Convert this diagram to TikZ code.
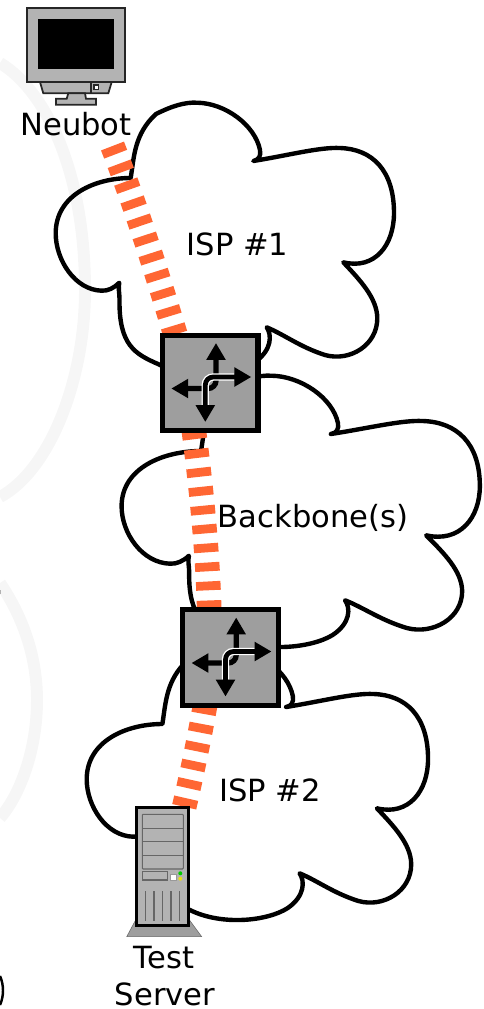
\documentclass[tikz,border=0pt]{standalone}
\usepackage{fontspec}
\setmainfont{DejaVu Sans}
\usepackage{xcolor}
\usetikzlibrary{arrows.meta, backgrounds}
\definecolor{linkorange}{HTML}{FF6633}
\definecolor{boxgrey}{HTML}{9E9E9E}
\definecolor{casegrey}{HTML}{B3B3B3}
\definecolor{bandgrey}{HTML}{F6F6F6}
\tikzset{
    cloudline/.style={line width=2.5pt, line join=round},
    wirelink/.style={linkorange, line width=14pt, dash pattern=on 5pt off 5.8pt},
    routerbox/.style={draw, fill=boxgrey, line width=2.9pt, minimum size=1.91cm, inner sep=0pt, outer sep=0pt},
    serverbox/.style={draw, fill=casegrey, line width=1.7pt, minimum width=1.04cm, minimum height=2.36cm, inner sep=0pt, outer sep=0pt},
    labeltext/.style={font=\fontsize{17.4}{21.5}\selectfont, inner sep=0pt, anchor=base},
    bayline/.style={draw=black!60, line width=0.6pt},
    turnarrow/.style={rounded corners=4.5pt, {Triangle[length=9.6pt,width=10.4pt]}-{Triangle[length=9.6pt,width=10.4pt]}}
}
\newcommand{\cloudoutline}{
    \draw[cloudline] (130.7,178) .. controls (134,158) and (134,134) .. (156,114)
        .. controls (172,106) and (185,102) .. (197,102.7)
        .. controls (225,103) and (255,125) .. (260,150)
        .. controls (261,156) and (259,160) .. (253.3,161)
        .. controls (290,155) and (320,147) .. (340,148)
        .. controls (372,149) and (394,170) .. (394,213)
        .. controls (394,245) and (375,270) .. (343.3,262.3)
        .. controls (360,280) and (377,298) .. (377.3,318)
        .. controls (377.5,345) and (350,362) .. (325,355)
        .. controls (300,347) and (285,335) .. (266.7,327.3)
        .. controls (272,335) and (272,350) .. (255,362)
        .. controls (235,375) and (190,380) .. (158,364)
        .. controls (135,354) and (119,345) .. (119.5,300)
        .. controls (119.5,292) and (118,288) .. (119.3,282.7)
        .. controls (114,288) and (108,291) .. (101.7,290.7)
        .. controls (75,290) and (55.7,260) .. (55.7,233.3)
        .. controls (55.7,195) and (95,178) .. (130.7,178) -- cycle;
}

\begin{document}
\begin{tikzpicture}[x=0.02cm, y=-0.02cm]
    \useasboundingbox (0,0) rectangle (484,1009);

    \node[routerbox] (routerone) at (210.3,383) {};
    \node[routerbox] (routertwo) at (230.5,657.5) {};
    \node[serverbox] (server) at (162.65,866.2) {};
    \coordinate (neubotlink) at (112.5,146);

    \begin{scope}[on background layer]
        \draw[bandgrey, line width=6.8pt] (0,63) .. controls (45,90) and (85,170) .. (85,290) .. controls (85,380) and (50,470) .. (0,497);
        \draw[bandgrey, line width=6.8pt] (0,583) .. controls (25,620) and (37,660) .. (37,700) .. controls (37,750) and (20,795) .. (0,818);
        \fill[black!30] (0,590) rectangle (1,594);
        \draw[line width=1.4pt] (0,976) .. controls (4,985) and (4,996) .. (0,1005);

        \cloudoutline
        \begin{scope}[shift={(62.6,273)}, xscale=1.059]
            \cloudoutline
        \end{scope}
        \begin{scope}[shift={(30.5,546)}, xscale=1.009]
            \cloudoutline
        \end{scope}

        \draw[wirelink] (neubotlink) .. controls (136.5,208) and (157.5,275) .. (routerone.126);
        \draw[wirelink, dash phase=11pt] (routerone.251) .. controls (201.5,490) and (207.5,550) .. (routertwo.114);
        \draw[wirelink] (routertwo.242) .. controls (199,740) and (192,773) .. (server.70);
        \fill[boxgrey, draw=black!60, line width=0.3pt] (136.7,918) -- (188,918) -- (201.7,936.7) -- (126.7,936.7) -- cycle;
    \end{scope}

    \foreach \r in {routerone,routertwo} {
        \begin{scope}[shift={(\r)}]
            \draw[turnarrow, line width=3pt] (5.7,-40) -- (5.7,5.5) -- (-39,5.5);
            \draw[white, line width=4.2pt, rounded corners=4.5pt] (24,-6) -- (-5,-6) -- (-5,22);
            \draw[turnarrow, line width=2.7pt] (41,-6) -- (-5,-6) -- (-5,39);
        \end{scope}
    }

    \draw[draw=black!85, fill=casegrey, line width=1pt] (40,82) -- (111.7,82) -- (108.3,93.3) -- (43.3,93.3) -- cycle;
    \draw[draw=black!85, line width=1pt] (90.7,82) -- (90.7,93.3);
    \draw[draw=black!85, fill=white, line width=0.7pt] (94,85) rectangle (98.7,89.3);
    \draw[draw=black!85, fill=casegrey, line width=1pt] (68.3,93.3) -- (66.7,98.7) -- (56,98.7) -- (56,104.7) -- (96,104.7) -- (96,98.7) -- (86,98.7) -- (85,93.3) -- cycle;
    \draw[draw=black!85, fill=casegrey, line width=1.2pt] (26.7,8) rectangle (125,82);
    \fill (37.7,19) rectangle (114.3,69.3);

    \draw[bayline, fill=casegrey, rounded corners=0.5pt] (142.3,814.3) rectangle (183.3,869);
    \foreach \y in {828.3,841.7,855.3}
        \draw[bayline] (142.3,\y) -- (183.3,\y);
    \draw[bayline, fill=casegrey] (142.3,871.7) rectangle (167.7,880);
    \draw[draw=black!40, fill=white, line width=0.3pt] (170.3,874.3) rectangle (176.3,880.3);
    \fill[green!80!black] (180.3,873.3) circle (2);
    \fill[yellow!90!black] (180.3,878.7) circle (2);
    \foreach \x in {145.3,154,162.7,171,179.3}
        \draw[bayline] (\x,891) -- (\x,920.7);

    \node[labeltext] (neubot) at (76,135) {Neubot};
    \node[labeltext] (ispone) at (237.5,255) {ISP \#1};
    \node[labeltext] (backbone) at (313,527) {Backbone(s)};
    \node[labeltext] (isptwo) at (270,801) {ISP \#2};
    \node[labeltext] (testlabel) at (164,968) {Test};
    \node[labeltext] (serverlabel) at (165,1005.5) {Server};
\end{tikzpicture}
\end{document}
